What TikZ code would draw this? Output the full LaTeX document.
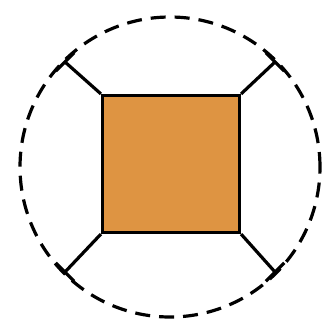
\documentclass[tikz,border=0pt]{standalone}
\usepackage{tikz}
\usetikzlibrary{calc}
\definecolor{cardboard}{RGB}{222,148,66}
\tikzset{
  every ring/.style={draw, circle, dashed, dash pattern=on 15pt off 9pt, line width=3.2pt, minimum size=300pt},
  every box/.style={draw, fill=cardboard, line width=3.2pt, minimum size=137pt, inner sep=0pt},
  strut/.style={line width=3.2pt},
}

\begin{document}
\begin{tikzpicture}[x=1pt, y=-1pt]
    \useasboundingbox (0,0) rectangle (324,325);
    \node[every ring] (ring) at (170,167) {};
    \node[every box]  (box)  at (171,164) {};
    \foreach \a/\c in {135/north west, 45/north east, 225/south west, 315/south east} {
      \coordinate (e\a) at ($(ring.center)!0.98!(ring.\a)$);
      \draw[strut] (box.\c) -- (e\a);
      \draw[strut] ($(e\a)!13pt!90:(ring.center)$) -- ($(e\a)!13pt!-90:(ring.center)$);
    }
  \end{tikzpicture}
\end{document}
